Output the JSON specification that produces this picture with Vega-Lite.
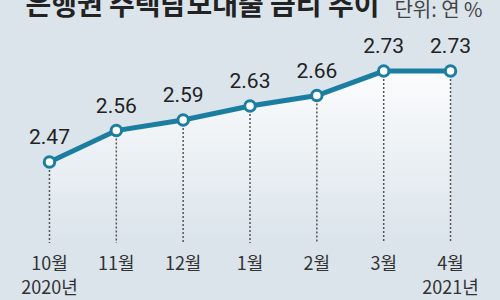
{
  "$schema": "https://vega.github.io/schema/vega-lite/v6.json",
  "width": 500,
  "height": 300,
  "autosize": {"type": "none"},
  "padding": 0,
  "background": "#dbe4eb",
  "config": {"view": {"stroke": null}},
  "datasets": {
    "rates": [
      {"m": "10월", "v": 2.47, "label": "2.47", "yr": "2020년"},
      {"m": "11월", "v": 2.56, "label": "2.56", "yr": ""},
      {"m": "12월", "v": 2.59, "label": "2.59", "yr": ""},
      {"m": "1월", "v": 2.63, "label": "2.63", "yr": ""},
      {"m": "2월", "v": 2.66, "label": "2.66", "yr": ""},
      {"m": "3월", "v": 2.73, "label": "2.73", "yr": ""},
      {"m": "4월", "v": 2.73, "label": "2.73", "yr": "2021년"}
    ],
    "titles": [
      {"t": "은행권 주택담보대출 금리 추이", "u": "단위: 연 %"}
    ]
  },
  "data": {"name": "rates"},
  "encoding": {
    "x": {
      "field": "m",
      "type": "ordinal",
      "sort": null,
      "scale": {"type": "point", "padding": 0.74},
      "axis": null
    }
  },
  "layer": [
    {
      "mark": {
        "type": "area",
        "fill": {
          "x1": 0, "y1": 0, "x2": 0, "y2": 1,
          "gradient": "linear",
          "stops": [
            {"offset": 0, "color": "#ffffff"},
            {"offset": 1, "color": "#dbe4eb"}
          ]
        },
        "opacity": 0.9
      },
      "encoding": {
        "y": {"field": "v", "type": "quantitative", "scale": {"domain": [2.076, 2.933], "nice": false, "zero": false}, "axis": null},
        "y2": {"datum": 2.239}
      }
    },
    {
      "mark": {"type": "rule", "strokeDash": [2, 2], "color": "#555555", "strokeWidth": 1.5},
      "encoding": {
        "y": {"field": "v", "type": "quantitative"},
        "y2": {"datum": 2.239}
      }
    },
    {
      "mark": {"type": "line", "color": "#1b7ea1", "strokeWidth": 5},
      "encoding": {"y": {"field": "v", "type": "quantitative"}}
    },
    {
      "mark": {"type": "point", "filled": true, "fill": "#ffffff", "stroke": "#1b7ea1", "strokeWidth": 3, "size": 110, "opacity": 1},
      "encoding": {"y": {"field": "v", "type": "quantitative"}}
    },
    {
      "mark": {"type": "text", "font": "Liberation Sans Narrow, Roboto", "fontSize": 21, "color": "#222222", "dy": -24, "baseline": "middle"},
      "encoding": {
        "y": {"field": "v", "type": "quantitative"},
        "text": {"field": "label"}
      }
    },
    {
      "mark": {"type": "text", "font": "Noto Sans CJK KR", "fontSize": 18, "color": "#333333", "baseline": "middle"},
      "encoding": {
        "y": {"datum": 2.176},
        "text": {"field": "m"}
      }
    },
    {
      "mark": {"type": "text", "font": "Noto Sans CJK KR", "fontSize": 18, "color": "#333333", "baseline": "middle"},
      "encoding": {
        "y": {"datum": 2.108},
        "text": {"field": "yr"}
      }
    },
    {
      "data": {"name": "titles"},
      "mark": {"type": "text", "font": "Noto Sans CJK KR", "fontWeight": "bold", "fontSize": 28, "color": "#222222", "align": "left", "baseline": "alphabetic", "dx": -24},
      "encoding": {
        "x": {"datum": "10월"},
        "y": {"datum": 2.89},
        "text": {"field": "t"}
      }
    },
    {
      "data": {"name": "titles"},
      "mark": {"type": "text", "font": "Noto Sans CJK KR", "fontSize": 20, "color": "#444444", "align": "right", "baseline": "alphabetic", "dx": 32},
      "encoding": {
        "x": {"datum": "4월"},
        "y": {"datum": 2.885},
        "text": {"field": "u"}
      }
    }
  ]
}
